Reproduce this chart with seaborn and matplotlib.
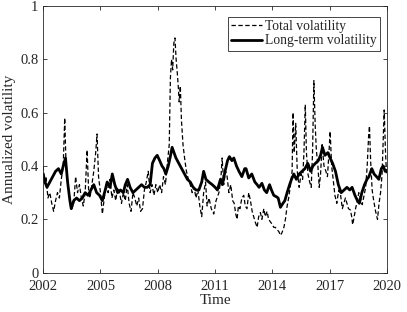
import numpy as np
import pandas as pd
import seaborn as sns
import matplotlib.pyplot as plt

# toplam volatilite (kesikli cizgi)
total_t = [2002.00, 2002.08, 2002.15, 2002.25, 2002.35, 2002.45, 2002.55, 2002.65, 2002.75, 2002.85,
           2002.95, 2003.05, 2003.13, 2003.20, 2003.30, 2003.40, 2003.50, 2003.60, 2003.70, 2003.80,
           2003.90, 2004.00, 2004.10, 2004.20, 2004.30, 2004.38, 2004.45, 2004.55, 2004.65, 2004.75,
           2004.82, 2004.90, 2005.00, 2005.10, 2005.20, 2005.30, 2005.40, 2005.50, 2005.60, 2005.70,
           2005.80, 2005.90, 2006.00, 2006.10, 2006.20, 2006.30, 2006.40, 2006.50, 2006.60, 2006.70,
           2006.80, 2006.90, 2007.00, 2007.10, 2007.20, 2007.30, 2007.40, 2007.50, 2007.60, 2007.70,
           2007.80, 2007.90, 2008.00, 2008.10, 2008.20, 2008.30, 2008.40, 2008.50, 2008.60, 2008.66,
           2008.72, 2008.78, 2008.84, 2008.90, 2008.96, 2009.02, 2009.08, 2009.12, 2009.18, 2009.24,
           2009.32, 2009.42, 2009.50, 2009.60, 2009.70, 2009.80, 2009.90, 2010.00, 2010.10, 2010.20,
           2010.30, 2010.40, 2010.50, 2010.58, 2010.68, 2010.80, 2010.93, 2011.05, 2011.20, 2011.30,
           2011.37, 2011.45, 2011.55, 2011.63, 2011.72, 2011.82, 2011.92, 2012.00, 2012.08, 2012.15,
           2012.22, 2012.30, 2012.40, 2012.50, 2012.58, 2012.67, 2012.76, 2012.85, 2012.94, 2013.02,
           2013.10, 2013.20, 2013.28, 2013.37, 2013.45, 2013.55, 2013.63, 2013.72, 2013.80, 2013.90,
           2014.00, 2014.07, 2014.15, 2014.25, 2014.33, 2014.42, 2014.50, 2014.60, 2014.68, 2014.77,
           2014.85, 2014.95, 2015.03, 2015.08, 2015.14, 2015.22, 2015.30, 2015.40, 2015.50, 2015.58,
           2015.65, 2015.72, 2015.78, 2015.86, 2015.95, 2016.03, 2016.10, 2016.17, 2016.24, 2016.30,
           2016.38, 2016.45, 2016.52, 2016.60, 2016.70, 2016.80, 2016.88, 2016.96, 2017.02, 2017.10,
           2017.18, 2017.27, 2017.37, 2017.47, 2017.57, 2017.66, 2017.74, 2017.82, 2017.90, 2017.98,
           2018.08, 2018.15, 2018.20, 2018.28, 2018.35, 2018.45, 2018.52, 2018.60, 2018.70, 2018.80,
           2018.88, 2018.96, 2019.04, 2019.08, 2019.14, 2019.22, 2019.30, 2019.40, 2019.50, 2019.58,
           2019.66, 2019.74, 2019.80, 2019.85, 2019.92, 2019.97]
total_v = [0.40, 0.33, 0.36, 0.28, 0.30, 0.26, 0.23, 0.27, 0.30, 0.28,
           0.35, 0.40, 0.58, 0.40, 0.33, 0.27, 0.24, 0.26, 0.36, 0.30,
           0.33, 0.28, 0.25, 0.30, 0.46, 0.31, 0.28, 0.33, 0.38, 0.45,
           0.52, 0.36, 0.30, 0.22, 0.28, 0.33, 0.30, 0.35, 0.28, 0.31,
           0.27, 0.32, 0.30, 0.26, 0.30, 0.27, 0.33, 0.26, 0.23, 0.30,
           0.28, 0.25, 0.28, 0.23, 0.24, 0.31, 0.34, 0.38, 0.30, 0.33,
           0.29, 0.33, 0.30, 0.33, 0.30, 0.36, 0.33, 0.41, 0.48, 0.73,
           0.80, 0.76, 0.86, 0.88, 0.80, 0.75, 0.69, 0.64, 0.70, 0.57,
           0.48, 0.42, 0.38, 0.35, 0.33, 0.30, 0.32, 0.28, 0.31, 0.25,
           0.21, 0.30, 0.34, 0.25, 0.28, 0.24, 0.22, 0.27, 0.30, 0.35,
           0.43, 0.33, 0.38, 0.36, 0.30, 0.33, 0.27, 0.26, 0.22, 0.20,
           0.25, 0.24, 0.28, 0.29, 0.25, 0.24, 0.30, 0.27, 0.23, 0.21,
           0.19, 0.17, 0.21, 0.225, 0.20, 0.24, 0.21, 0.23, 0.20, 0.19,
           0.18, 0.17, 0.17, 0.16, 0.155, 0.14, 0.15, 0.17, 0.20, 0.25,
           0.28, 0.33, 0.38, 0.60, 0.45, 0.56, 0.38, 0.32, 0.37, 0.35,
           0.45, 0.63, 0.45, 0.37, 0.34, 0.32, 0.45, 0.72, 0.55, 0.46,
           0.40, 0.32, 0.37, 0.48, 0.40, 0.38, 0.36, 0.45, 0.53, 0.40,
           0.35, 0.29, 0.26, 0.31, 0.29, 0.24, 0.26, 0.28, 0.26, 0.24,
           0.235, 0.21, 0.18, 0.21, 0.24, 0.27, 0.30, 0.28, 0.255, 0.29,
           0.32, 0.40, 0.52, 0.55, 0.42, 0.31, 0.27, 0.23, 0.20, 0.26,
           0.30, 0.37, 0.50, 0.61, 0.45, 0.37]

# uzun vadeli volatilite (kalin cizgi)
long_t = [2002.00, 2002.10, 2002.20, 2002.35, 2002.50, 2002.65, 2002.80, 2002.95, 2003.05, 2003.17,
          2003.28, 2003.40, 2003.47, 2003.60, 2003.75, 2003.90, 2004.05, 2004.20, 2004.35, 2004.50,
          2004.65, 2004.80, 2004.95, 2005.10, 2005.25, 2005.35, 2005.50, 2005.62, 2005.75, 2005.90,
          2006.05, 2006.20, 2006.30, 2006.42, 2006.55, 2006.70, 2006.85, 2007.00, 2007.15, 2007.30,
          2007.45, 2007.60, 2007.72, 2007.85, 2007.97, 2008.10, 2008.22, 2008.32, 2008.42, 2008.55,
          2008.67, 2008.75, 2008.85, 2008.95, 2009.10, 2009.25, 2009.40, 2009.55, 2009.70, 2009.85,
          2010.00, 2010.15, 2010.30, 2010.40, 2010.52, 2010.67, 2010.85, 2011.00, 2011.12, 2011.28,
          2011.38, 2011.52, 2011.65, 2011.75, 2011.88, 2011.98, 2012.12, 2012.25, 2012.40, 2012.55,
          2012.62, 2012.76, 2012.92, 2013.08, 2013.20, 2013.30, 2013.45, 2013.58, 2013.70, 2013.85,
          2013.95, 2014.07, 2014.20, 2014.30, 2014.42, 2014.55, 2014.65, 2014.77, 2014.90, 2015.00,
          2015.12, 2015.25, 2015.40, 2015.55, 2015.70, 2015.85, 2016.00, 2016.12, 2016.25, 2016.40,
          2016.52, 2016.62, 2016.75, 2016.90, 2017.02, 2017.15, 2017.30, 2017.45, 2017.60, 2017.75,
          2017.90, 2018.05, 2018.17, 2018.32, 2018.45, 2018.55, 2018.68, 2018.82, 2018.95, 2019.05,
          2019.20, 2019.32, 2019.45, 2019.57, 2019.70, 2019.80, 2019.90, 2020.00]
long_v = [0.37, 0.34, 0.32, 0.34, 0.36, 0.38, 0.39, 0.37, 0.40, 0.43,
          0.34, 0.27, 0.24, 0.27, 0.28, 0.27, 0.28, 0.30, 0.29, 0.31,
          0.33, 0.30, 0.29, 0.27, 0.31, 0.34, 0.32, 0.37, 0.33, 0.30,
          0.31, 0.30, 0.33, 0.35, 0.32, 0.30, 0.31, 0.32, 0.33, 0.32,
          0.32, 0.33, 0.41, 0.43, 0.44, 0.42, 0.40, 0.39, 0.37, 0.40,
          0.44, 0.47, 0.45, 0.43, 0.41, 0.39, 0.37, 0.35, 0.34, 0.32,
          0.31, 0.31, 0.34, 0.38, 0.35, 0.34, 0.33, 0.32, 0.31, 0.35,
          0.33, 0.38, 0.42, 0.435, 0.42, 0.43, 0.40, 0.38, 0.36, 0.39,
          0.39, 0.355, 0.37, 0.34, 0.33, 0.32, 0.335, 0.31, 0.30, 0.33,
          0.31, 0.29, 0.285, 0.28, 0.245, 0.26, 0.27, 0.30, 0.33, 0.35,
          0.37, 0.35, 0.37, 0.38, 0.39, 0.41, 0.38, 0.40, 0.41, 0.42,
          0.44, 0.47, 0.44, 0.45, 0.43, 0.41, 0.38, 0.33, 0.30, 0.31,
          0.32, 0.31, 0.32, 0.29, 0.27, 0.26, 0.30, 0.33, 0.35, 0.36,
          0.39, 0.37, 0.36, 0.35, 0.39, 0.40, 0.38, 0.38]

x_ticks = [2002, 2005, 2008, 2011, 2014, 2017, 2020]
y_ticks = [0, 0.2, 0.4, 0.6, 0.8, 1]

df_total = pd.DataFrame({'Time': total_t, 'Vol': total_v})
df_long = pd.DataFrame({'Time': long_t, 'Vol': long_v})

sns.set_style("ticks")
plt.rcParams['font.family'] = ['Liberation Serif', 'DejaVu Serif']
plt.rcParams['font.size'] = 10

fig = plt.figure(figsize=(4.07, 3.12), dpi=100)
ax = fig.add_axes([0.106, 0.126, 0.845, 0.855])

sns.lineplot(data=df_total, x='Time', y='Vol', ax=ax, color='black', linewidth=0.9,
             linestyle=(0, (3.5, 2)), label='Total volatility')
sns.lineplot(data=df_long, x='Time', y='Vol', ax=ax, color='black', linewidth=2.0,
             label='Long-term volatility')

ax.set_xlim(2002, 2020)
ax.set_ylim(0, 1)
ax.set_xticks(x_ticks)
ax.set_xticklabels([str(t) for t in x_ticks])
ax.set_yticks(y_ticks)
ax.set_yticklabels(['0', '0.2', '0.4', '0.6', '0.8', '1'])
ax.set_xlabel('Time', fontsize=11, labelpad=1)
ax.set_ylabel('Annualized volatility', fontsize=11, labelpad=3)

ax.tick_params(direction='in', top=True, right=True, length=3, width=0.6,
               colors='#262626', labelsize=10.5, labelcolor='#262626')
ax.tick_params(axis='x', pad=5)
for s in ax.spines.values():
    s.set_visible(True)
    s.set_linewidth(0.6)
    s.set_color('#262626')

leg = ax.legend(loc='upper right', bbox_to_anchor=(0.98, 0.96), fancybox=False,
                framealpha=1, edgecolor='#262626', fontsize=9.8, handlelength=2.3,
                borderpad=0.25, labelspacing=0.1, handletextpad=0.2, borderaxespad=0)
leg.get_frame().set_linewidth(0.6)

fig.savefig('out.png', dpi=100)
